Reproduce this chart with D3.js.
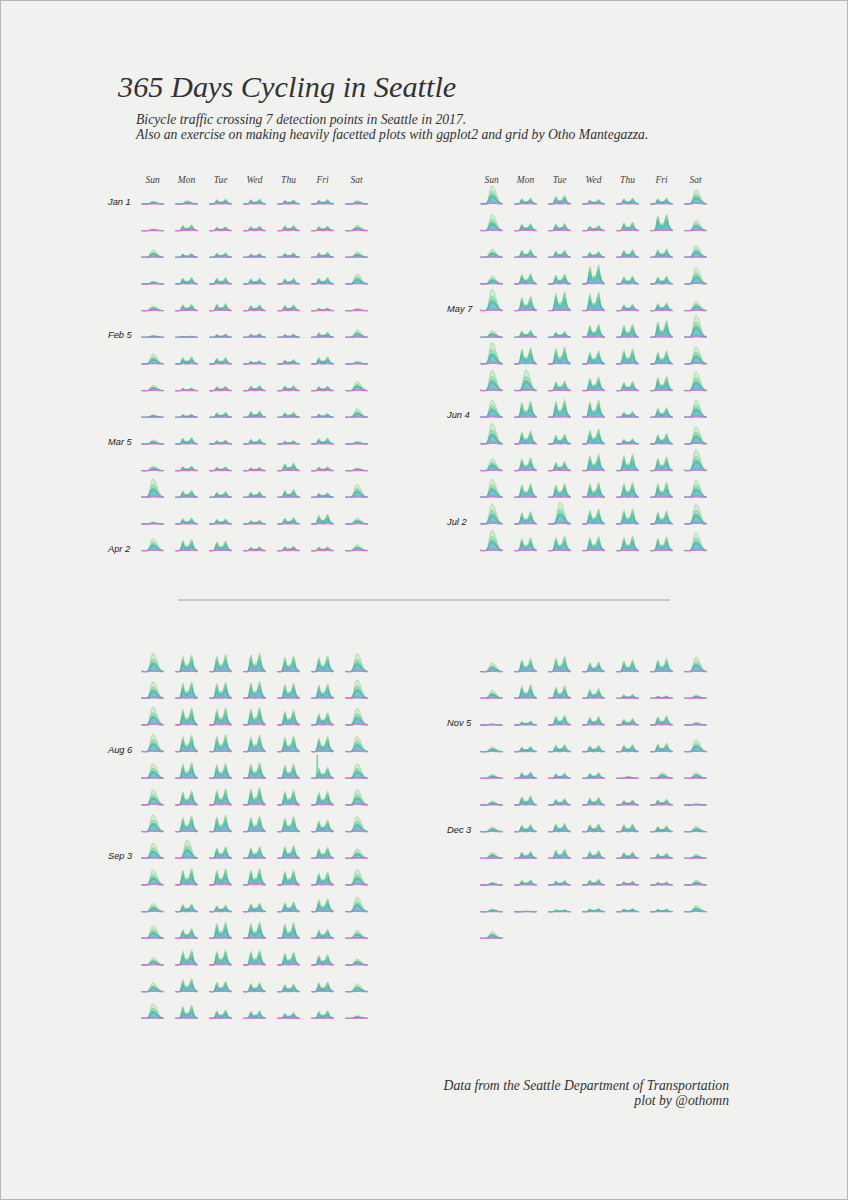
<!DOCTYPE html>
<html><head><meta charset="utf-8">
<script src="https://cdn.jsdelivr.net/npm/d3@7"></script>
<style>body{margin:0;background:#f1f1ef}svg{display:block}</style>
</head><body><svg id="c" width="848" height="1200"></svg>
<script>
// ---------------- DATA ----------------
const weekdays = ["Sun","Mon","Tue","Wed","Thu","Fri","Sat"];
// ordered from the busiest (drawn at the back) to the quietest (drawn on top)
const counters = ["Fremont Bridge","Burke Gilman Trail","2nd Ave Cycletrack","Broadway Cycletrack","Spokane St. Bridge","39th Ave NE Greenway","26th Ave SW Greenway"];
const counterColors = ["#a8e8a4","#62d89a","#3ccdb4","#48c8d8","#78b0ea","#b39ae8","#e07ce0"];
const hours = [0,1,2,3,4,5,6,7,8,9,10,11,12,13,14,15,16,17,18,19,20,21,22,23];
// hourly profile (relative to the day's peak) for working days and for weekends / holidays
const weekdayShape = [0.02,0.01,0.01,0.01,0.03,0.12,0.38,0.78,0.90,0.58,0.40,0.38,0.42,0.42,0.46,0.62,0.88,1.00,0.70,0.40,0.25,0.15,0.09,0.05];
const weekendShape = [0.04,0.03,0.02,0.01,0.01,0.02,0.05,0.13,0.28,0.52,0.77,0.94,1.00,0.97,0.90,0.78,0.63,0.47,0.33,0.21,0.13,0.08,0.05,0.03];
// relative size of each counter (busiest = 1)
const weekdayShare = [1.00,0.85,0.68,0.52,0.38,0.14,0.04];
const weekendShare = [1.00,0.68,0.50,0.44,0.38,0.10,0.04];
// peak hourly traffic of each day of 2017 (relative units), one row per week, Sun..Sat
const dailyPeak = [
 8,10,15,15,13,14,10,
 5,18,12,14,16,14,16,
 22,12,14,12,14,16,16,
 8,20,20,18,18,20,30,
 14,20,22,18,18,8,6,
 6,4,10,12,10,16,22,
 30,22,20,10,14,22,8,
 16,8,14,16,16,14,28,
 8,10,16,20,16,12,26,
 12,20,12,16,10,18,8,
 14,14,12,10,24,12,8,
 55,22,18,18,24,14,38,
 6,18,16,12,20,30,18,
 36,34,30,12,14,12,18,
 55,18,26,14,18,18,42,
 48,22,22,16,26,50,32,
 24,24,22,18,24,26,36,
 24,32,30,58,24,24,48,
 64,44,58,56,20,24,28,
 20,22,18,40,40,52,66,
 64,50,52,40,46,40,52,
 62,62,30,42,28,44,56,
 52,50,54,52,18,30,52,
 62,40,30,46,16,32,52,
 36,40,28,50,50,42,64,
 54,42,42,46,46,46,52,
 60,38,66,46,46,40,60,
 62,40,44,44,44,42,54,
 55,50,52,56,48,48,54,
 50,50,50,52,46,44,56,
 54,52,52,54,46,38,50,
 52,50,52,50,48,46,46,
 44,48,46,48,44,34,44,
 46,44,50,54,46,42,46,
 50,48,50,48,46,36,46,
 46,56,36,36,40,34,28,
 46,50,50,50,46,40,46,
 24,24,20,26,30,40,44,
 38,30,50,50,48,28,24,
 22,46,46,46,40,32,18,
 26,40,32,28,24,30,24,
 44,40,26,24,18,24,8,
 26,40,46,30,36,40,44,
 24,42,38,30,12,8,10,
 4,12,30,26,20,28,8,
 14,16,22,20,22,26,36,
 12,20,16,18,6,18,18,
 12,28,20,24,16,18,4,
 14,22,26,24,24,18,16,
 18,22,28,24,20,16,12,
 8,16,14,18,12,10,14,
 8,2,6,10,10,8,18,
 20
];
const holidays = ["2017-01-02","2017-05-29","2017-07-04","2017-09-04","2017-11-23","2017-11-24","2017-12-25"];
const outlierDates = ["2017-08-18"];
const outlierCounters = ["Burke Gilman Trail"];
const outlierHours = [6];
const outlierValues = [60];
const rowLabelDates = ["2017-01-01","2017-02-05","2017-03-05","2017-04-02","2017-05-07","2017-06-04","2017-07-02","2017-08-06","2017-09-03","2017-11-05","2017-12-03"];
const fillOpacity = [0.45,0.4,0.4,0.3,0.25,0.2,0.2];

// ---------------- DRAW ----------------
const svg = d3.select("#c");
svg.append("rect").attr("x",0.5).attr("y",0.5).attr("width",847).attr("height",1199)
  .attr("fill","#f1f1ef").attr("stroke","#b5b5b5");

const serif = "'Liberation Serif', 'DejaVu Serif', serif";
const sans = "'Liberation Sans', Arial, sans-serif";

svg.append("text").attr("x",118).attr("y",97).attr("font-family",serif).attr("font-style","italic")
  .attr("font-size",30.3).attr("fill","#333").text("365 Days Cycling in Seattle");
svg.append("text").attr("x",136).attr("y",124).attr("font-family",serif).attr("font-style","italic")
  .attr("font-size",13.7).attr("fill","#333").text("Bicycle traffic crossing 7 detection points in Seattle in 2017.");
svg.append("text").attr("x",136).attr("y",138.5).attr("font-family",serif).attr("font-style","italic")
  .attr("font-size",13.7).attr("fill","#333").text("Also an exercise on making heavily facetted plots with ggplot2 and grid by Otho Mantegazza.");

svg.append("text").attr("x",729).attr("y",1090).attr("text-anchor","end").attr("font-family",serif).attr("font-style","italic")
  .attr("font-size",13.7).attr("fill","#333").text("Data from the Seattle Department of Transportation");
svg.append("text").attr("x",729).attr("y",1105).attr("text-anchor","end").attr("font-family",serif).attr("font-style","italic")
  .attr("font-size",13.7).attr("fill","#333").text("plot by @othomn");

svg.append("line").attr("x1",178).attr("x2",670).attr("y1",600).attr("y2",600)
  .attr("stroke","#9a9a9a").attr("stroke-width",0.9);

const panelDx = [0, 339];
const panelDy = [0, 467.7];
const xCol = d3.scalePoint().domain(weekdays).range([152.5, 356.5]);
const yRow = d3.scaleLinear().domain([0, 13]).range([204, 550.7]);
const cellW = 22;
const xHour = d3.scaleLinear().domain([0, 23]).range([0, cellW]);
const yVal = d3.scaleLinear().domain([0, d3.max(dailyPeak)]).range([0, -22]);
const fmt = d3.timeFormat("%Y-%m-%d");
const start = new Date(2017, 0, 1);

// day-of-week headers on the two top panels
[0, 1].forEach(pc => {
  svg.append("g").selectAll("text").data(weekdays).join("text")
    .attr("x", d => xCol(d) + panelDx[pc]).attr("y", 183)
    .attr("text-anchor","middle").attr("font-family",serif).attr("font-style","italic")
    .attr("font-size",9.5).attr("fill","#444").text(d => d);
});

function position(i) {
  const week = Math.floor(i / 7);
  const panel = Math.floor(week / 14);
  const row = week % 14;
  return { x: panelDx[panel % 2], y: panelDy[Math.floor(panel / 2)] + yRow(row) };
}

const area = d3.area().curve(d3.curveMonotoneX)
  .x(d => xHour(d.hour)).y0(yVal(0)).y1(d => yVal(d.v));
const topLine = d3.line().curve(d3.curveMonotoneX)
  .x(d => xHour(d.hour)).y(d => yVal(d.v));

dailyPeak.forEach((peak, i) => {
  const date = d3.timeDay.offset(start, i);
  const key = fmt(date);
  const dow = date.getDay();
  const weekend = dow === 0 || dow === 6 || holidays.includes(key);
  const shape = weekend ? weekendShape : weekdayShape;
  const share = weekend ? weekendShare : weekdayShare;
  const series = counters.map((c, ci) =>
    hours.map((h, hi) => {
      let v = peak * share[ci] * shape[hi];
      outlierDates.forEach((od, k) => {
        if (od === key && outlierCounters[k] === c && outlierHours[k] === h) v += outlierValues[k];
      });
      return {hour: h, v};
    }));
  const p = position(i);
  const g = svg.append("g")
    .attr("transform", `translate(${p.x + xCol(weekdays[dow]) - cellW / 2},${p.y})`);
  g.selectAll("path.a").data(series).join("path").attr("class","a")
    .attr("d", area).attr("fill", (d, k) => counterColors[k])
    .attr("fill-opacity", (d, k) => fillOpacity[k]);
  g.selectAll("path.l").data(series).join("path").attr("class","l")
    .attr("d", topLine).attr("fill","none")
    .attr("stroke", (d, k) => k === counters.length - 1 ? "#d77ad9" : d3.color(counterColors[k]).darker(0.45))
    .attr("stroke-width", (d, k) => k === counters.length - 1 ? 1.1 : 0.55);
});

// month labels
rowLabelDates.forEach(s => {
  const date = d3.timeParse("%Y-%m-%d")(s);
  const i = d3.timeDay.count(start, date);
  const p = position(i);
  svg.append("text").attr("x", p.x + 108).attr("y", p.y + 1)
    .attr("font-family", sans).attr("font-style","italic").attr("font-size",9.3)
    .attr("fill","#222").text(d3.timeFormat("%b %-d")(date));
});
</script></body></html>
